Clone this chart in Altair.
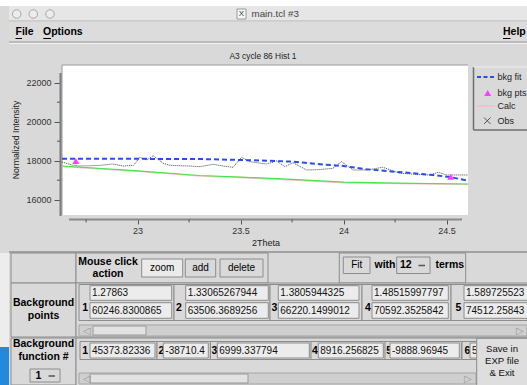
import altair as alt
import pandas as pd

# ---------------- data ----------------
theta_obs = [22.633, 22.68, 22.72, 22.77, 22.82, 22.88, 22.93, 22.98, 23.011, 23.044,
             23.076, 23.124, 23.157, 23.21, 23.254, 23.302, 23.366, 23.42, 23.463, 23.505,
             23.545, 23.59, 23.626, 23.675, 23.715, 23.755, 23.82, 23.88, 23.948, 23.99,
             24.047, 24.112, 24.19, 24.273, 24.354, 24.419, 24.459, 24.5, 24.55, 24.603]
obs_vals = [17933, 17780, 17728, 17740, 17764, 17830, 17728, 17764, 18174, 18036,
            18256, 17867, 17764, 17740, 17728, 17692, 17815, 17720, 17662, 18174,
            17949, 17880, 17831, 17985, 17692, 17897, 17523, 17540, 17610, 17949,
            17523, 17523, 17662, 17354, 17303, 17267, 17405, 17267, 17267, 17267]

theta_fit = [22.633, 23.0, 23.3, 23.5, 23.626, 23.755, 23.869, 24.0, 24.112, 24.25, 24.435, 24.524, 24.605]
fit_vals = [18100, 18095, 18087, 18036, 18000, 17949, 17830, 17728, 17559, 17436, 17267, 17149, 16975]

theta_green = [22.633, 23.0, 23.3, 23.5, 23.75, 24.0, 24.25, 24.605]
green_vals = [17728, 17480, 17240, 17160, 17040, 16900, 16850, 16805]
calc_vals = [17700, 17455, 17215, 17135, 17015, 16875, 16825, 16780]

theta_pts = [22.70, 24.52]
pts_vals = [17985, 17180]

x_ticks = [23, 23.5, 24, 24.5]
x_minor = [22.75, 23.25, 23.75, 24.25]
y_ticks = [16000, 18000, 20000, 22000]
y_minor = [17000, 19000, 21000]

plot_title = "A3 cycle 86 Hist 1"
x_title = "2Theta"
y_title = "Normalized Intensity"
legend_labels = ["bkg fit", "bkg pts", "Calc", "Obs"]

window_title = "main.tcl #3"
menu_items = ["File", "Options", "Help"]
bg_points_x = ["1.27863", "1.33065267944", "1.3805944325", "1.48515997797", "1.589725523"]
bg_points_y = ["60246.8300865", "63506.3689256", "66220.1499012", "70592.3525842", "74512.25843"]
bg_terms = ["45373.82336", "-38710.4205", "6999.337794", "8916.256825", "-9888.96945", "5"]

# ---------------- layout helpers ----------------
FONT = "Liberation Sans"
OX, OY = 62, 65
W, H = 406, 150
dummy = pd.DataFrame({"k": [0]})


def T(x, y, s, size=10, bold=False, color="#000000", align="left", angle=0, limit=None):
    kw = dict(text=s, fontSize=size, fontWeight="bold" if bold else "normal", font=FONT,
              color=color, align=align, baseline="middle", angle=angle)
    if limit:
        kw.update(limit=limit, ellipsis="\u200a")
    return alt.Chart(dummy).mark_text(**kw).encode(x=alt.value(x - OX), y=alt.value(y - OY))


def R(x1, y1, x2, y2, fill, stroke=None, sw=1):
    kw = dict(fill=fill)
    if stroke:
        kw.update(stroke=stroke, strokeWidth=sw)
    return alt.Chart(dummy).mark_rect(**kw).encode(
        x=alt.value(x1 - OX), x2=alt.value(x2 - OX), y=alt.value(y1 - OY), y2=alt.value(y2 - OY))


def L(x1, y1, x2, y2, color, w=1, dash=None):
    kw = dict(color=color, strokeWidth=w)
    if dash:
        kw.update(strokeDash=dash)
    return alt.Chart(dummy).mark_rule(**kw).encode(
        x=alt.value(x1 - OX), x2=alt.value(x2 - OX), y=alt.value(y1 - OY), y2=alt.value(y2 - OY))


def P(x, y, shape, size, fill, stroke=None, filled=True):
    kw = dict(shape=shape, size=size, filled=filled, opacity=1)
    if filled:
        kw.update(color=fill)
    else:
        kw.update(fill=fill, stroke=stroke, strokeWidth=1)
    return alt.Chart(dummy).mark_point(**kw).encode(x=alt.value(x - OX), y=alt.value(y - OY))


BG = "#d9d9d9"
EDGE = "#8c8c8c"
ENTRY = "#ececec"

deco = []
# window title bar and menu
deco.append(R(0, 0, 527, 6, "#ffffff"))
deco.append(R(9, 6, 527, 21, "#e6e6e6"))
for cx in (16.7, 33.3, 50):
    deco.append(P(cx, 14, "circle", 72, "#ececec", stroke="#a8a8a8", filled=False))
deco.append(R(237, 9, 246, 19, "#f6f6f6", stroke="#9a9a9a"))
deco.append(T(241.5, 14.2, "X", size=8, color="#333333", align="center"))
deco.append(T(251.5, 14, window_title, size=9.8, color="#444444"))
deco.append(L(9, 21, 527, 21, "#b5b5b5"))
deco.append(R(9, 21.5, 527, 41.5, "#dcdcdc"))
deco.append(T(15.5, 32, menu_items[0], size=10.5, bold=True))
deco.append(T(43, 32, menu_items[1], size=10.5, bold=True))
deco.append(T(503, 32, menu_items[2], size=10.5, bold=True))
deco.append(L(15.5, 38.5, 22, 38.5, "#000000"))
deco.append(L(43.3, 38.5, 51, 38.5, "#000000"))
deco.append(L(503, 38.5, 510.5, 38.5, "#000000"))
deco.append(L(9, 42, 527, 42, "#9a9a9a"))
deco.append(L(9, 43.5, 527, 43.5, "#f2f2f2"))

# chart title and axis titles
deco.append(T(263, 56, plot_title, size=8.4, color="#222222", align="center"))
deco.append(T(266, 243, x_title, size=9, color="#222222", align="center"))
deco.append(T(16, 140, y_title, size=8.7, color="#222222", align="center", angle=270))

# plot frame edges and axis lines
deco.append(L(62, 65, 468, 65, "#9a9a9a"))
deco.append(L(62, 65, 62, 215, "#9a9a9a"))
deco.append(L(60.5, 73, 60.5, 216, "#7a7a7a", w=2))
deco.append(L(69, 219.5, 462, 219.5, "#8a8a8a", w=2))

# legend
deco.append(L(473.5, 67, 473.5, 130, "#6f6f6f", w=1.5))
deco.append(L(473.5, 130, 527, 130, "#6f6f6f", w=1.5))
deco.append(L(473.5, 67, 527, 67, "#eeeeee"))
deco.append(L(477, 77, 495, 77, "#2a4bf0", w=2, dash=[4, 2.5]))
deco.append(P(487.7, 93, "triangle-up", 48, "#ff3cff"))
deco.append(L(477, 106, 495, 106, "#ffb6c8", w=1.5))
deco.append(L(484, 117.5, 490.5, 124, "#555555"))
deco.append(L(484, 124, 490.5, 117.5, "#555555"))
for lab, yy in zip(legend_labels, (77, 92.5, 106, 121)):
    deco.append(T(497.5, yy, lab, size=9, color="#222222"))

# bottom control panel
deco.append(L(9, 252, 527, 252, "#a2a2a2", w=2))
deco.append(R(0, 253, 9, 347, "#ededed"))
deco.append(R(0, 347, 9, 385, "#2389d8"))
# row 1
deco.append(R(11, 253, 76, 283, BG, stroke=EDGE))
deco.append(R(76, 253, 268, 283, BG, stroke=EDGE))
deco.append(T(108, 262, "Mouse click", size=10.5, bold=True, align="center"))
deco.append(T(108, 274, "action", size=10.5, bold=True, align="center"))
deco.append(R(141.7, 259, 182.7, 277, "#ebebeb", stroke=EDGE))
deco.append(T(162.2, 268, "zoom", size=10, align="center"))
deco.append(R(185.3, 259, 215.7, 277, BG, stroke=EDGE))
deco.append(T(200.5, 268, "add", size=10, align="center"))
deco.append(R(220, 259, 263, 277, BG, stroke=EDGE))
deco.append(T(241.5, 268, "delete", size=10, align="center"))
deco.append(R(339.3, 253, 465.7, 283, BG, stroke=EDGE))
deco.append(R(343.3, 257, 370, 273.5, BG, stroke=EDGE))
deco.append(T(356.7, 265.3, "Fit", size=10, align="center"))
deco.append(T(374.5, 265.3, "with", size=10.5, bold=True))
deco.append(R(396.7, 257, 430, 273.5, BG, stroke=EDGE))
deco.append(T(400, 265.3, "12", size=10.5, bold=True))
deco.append(L(418.5, 265.5, 425, 265.5, "#555555", w=1.5))
deco.append(T(435.5, 265.3, "terms", size=10.5, bold=True))
# row 2: background points
deco.append(R(11, 283, 76, 337, BG, stroke=EDGE))
deco.append(T(43.5, 303, "Background", size=10.5, bold=True, align="center"))
deco.append(T(43.5, 316, "points", size=10.5, bold=True, align="center"))
deco.append(R(76, 283, 540, 337, BG, stroke=EDGE))
pt_frames = [(79, 82.3, 90, 171.7, 174), (174, 176, 185.7, 268.3, 270), (270, 271.5, 278.3, 359, 362),
             (362, 365, 372, 448.3, 451), (451, 455.5, 464, 545, 545)]
for i, (fx1, nx, ex1, ex2, fx2) in enumerate(pt_frames):
    deco.append(R(fx1, 284.5, fx2, 320.5, BG, stroke=EDGE))
    deco.append(T(nx, 307.5, str(i + 1), size=10.5, bold=True))
    deco.append(R(ex1, 285.7, ex2, 300.3, ENTRY, stroke=EDGE))
    deco.append(R(ex1, 302.7, ex2, 318.3, ENTRY, stroke=EDGE))
    deco.append(T(ex1 + 2, 293.3, bg_points_x[i], size=10, color="#111111"))
    deco.append(T(ex1 + 2, 310.8, bg_points_y[i], size=10, color="#111111"))
deco.append(R(79, 325, 527, 336, "#cfcfcf", stroke="#a5a5a5"))
deco.append(R(93, 326, 146, 335, "#e2e2e2", stroke="#9a9a9a"))
deco.append(T(86.5, 330.7, "◁", size=10, color="#9a9a9a", align="center"))
deco.append(T(520, 330.7, "▷", size=10, color="#9a9a9a", align="center"))
# row 3: background function
deco.append(R(11, 338, 76, 385, BG, stroke=EDGE))
deco.append(T(43.5, 344, "Background", size=10.5, bold=True, align="center"))
deco.append(T(43.5, 357, "function #", size=10.5, bold=True, align="center"))
deco.append(R(30, 369, 60, 382, BG, stroke=EDGE))
deco.append(T(35.5, 375.8, "1", size=10.5, bold=True))
deco.append(L(48.5, 376, 55, 376, "#555555", w=1.5))
deco.append(R(76, 338, 540, 390, BG, stroke=EDGE))
term_frames = [(80, 82.3, 90, 155), (157, 158.5, 163.3, 208.3), (210.5, 211.5, 217.3, 309.3),
               (311, 312, 318.3, 383.3), (385, 386.2, 390, 459.3), (462, 464.5, 470, 520)]
for i, (fx1, nx, ex1, ex2) in enumerate(term_frames):
    deco.append(R(fx1, 341.5, ex2 + 2, 359.5, BG, stroke=EDGE))
    deco.append(T(nx, 350.5, str(i + 1), size=10.5, bold=True))
    deco.append(R(ex1, 343, ex2, 358, ENTRY, stroke=EDGE))
    deco.append(T(ex1 + 2, 350.5, bg_terms[i], size=10, color="#111111", limit=ex2 - ex1 - 2))
deco.append(R(79, 373, 476, 384, "#cfcfcf", stroke="#a5a5a5"))
deco.append(R(90, 374, 248, 383, "#e2e2e2", stroke="#9a9a9a"))
deco.append(T(86.5, 378.5, "◁", size=10, color="#9a9a9a", align="center"))
deco.append(T(468, 378.5, "▷", size=10, color="#9a9a9a", align="center"))
deco.append(R(476.7, 338.3, 530, 390, "#dedede", stroke=EDGE))
deco.append(T(502, 349, "Save in", size=9.6, align="center", color="#111111"))
deco.append(T(502, 361, "EXP file", size=9.6, align="center", color="#111111"))
deco.append(T(502, 373, "& Exit", size=9.6, align="center", color="#111111"))

# ---------------- data layers ----------------
xs = alt.Scale(domain=[22.633, 24.604], nice=False, zero=False)
ys = alt.Scale(domain=[15215, 22908], nice=False, zero=False)
xaxis = alt.Axis(values=x_ticks, format="~g", title=None, domain=False, grid=False, offset=4,
                 tickSize=5, tickColor="#555555", tickWidth=1, labelFont=FONT, labelFontSize=9,
                 labelColor="#333333", labelPadding=2, labelFlush=False, labelOverlap=False)
yaxis = alt.Axis(values=y_ticks, format="d", title=None, domain=False, grid=False, offset=2,
                 tickSize=6, tickColor="#555555", tickWidth=1, labelFont=FONT, labelFontSize=9,
                 labelColor="#333333", labelPadding=3, labelFlush=False, labelOverlap=False)
X = alt.X("t:Q", scale=xs, axis=xaxis)
Y = alt.Y("v:Q", scale=ys, axis=yaxis)

df_obs = pd.DataFrame({"t": theta_obs, "v": obs_vals})
df_fit = pd.DataFrame({"t": theta_fit, "v": fit_vals})
df_green = pd.DataFrame({"t": theta_green, "v": green_vals})
df_calc = pd.DataFrame({"t": theta_green, "v": calc_vals})
df_pts = pd.DataFrame({"t": theta_pts, "v": pts_vals})
df_xminor = pd.DataFrame({"t": x_minor})
df_yminor = pd.DataFrame({"v": y_minor})

calc_line = alt.Chart(df_calc).mark_line(color="#ffc4d2", strokeWidth=1.5).encode(x=X, y=Y)
green_line = alt.Chart(df_green).mark_line(color="#45e645", strokeWidth=1.2).encode(x=X, y=Y)
obs_line = alt.Chart(df_obs).mark_line(color="#444444", strokeWidth=1, strokeDash=[1, 1]).encode(x=X, y=Y)
fit_line = alt.Chart(df_fit).mark_line(color="#2a4bf0", strokeWidth=2, strokeDash=[5, 3]).encode(x=X, y=Y)
pts = alt.Chart(df_pts).mark_point(shape="triangle-up", filled=True, color="#ff3cff", size=48, opacity=1).encode(x=X, y=Y)
xminor = alt.Chart(df_xminor).mark_rule(color="#555555", strokeWidth=1).encode(
    x=X, y=alt.value(219.5 - OY), y2=alt.value(222.5 - OY))
yminor = alt.Chart(df_yminor).mark_rule(color="#555555", strokeWidth=1).encode(
    y=Y, x=alt.value(57 - OX), x2=alt.value(60 - OX))

chart = alt.layer(
    *deco, calc_line, green_line, obs_line, fit_line, pts, xminor, yminor
).properties(
    width=W, height=H,
    autosize=alt.AutoSizeParams(type="none"),
    padding={"left": OX, "top": OY, "right": 527 - OX - W, "bottom": 385 - OY - H},
    background=BG,
).configure_view(fill="#ffffff", strokeWidth=0)

chart.save("out.html", embed_options={"renderer": "svg", "actions": False})
